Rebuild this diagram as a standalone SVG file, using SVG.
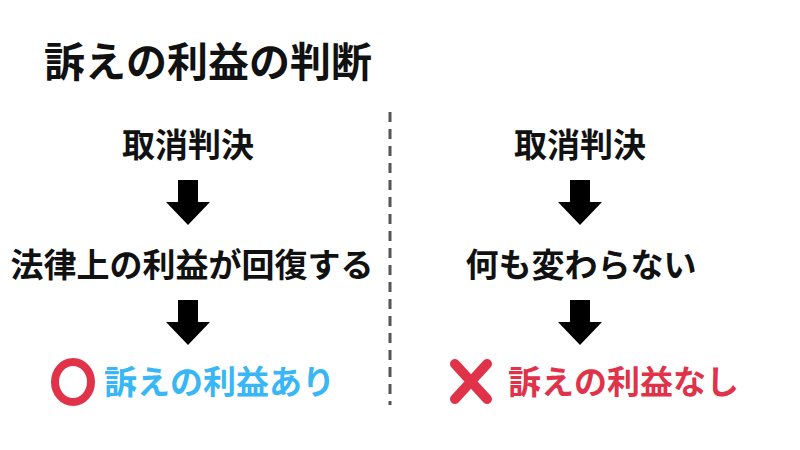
<svg xmlns="http://www.w3.org/2000/svg" width="800" height="450" viewBox="0 0 800 450">
<style>
text{font-family:"Noto Sans CJK JP","Noto Sans CJK SC",sans-serif;font-weight:700}
.t{font-size:33px;fill:#111;text-anchor:middle}
.arrow{fill:#000}
</style>
<defs>
<path id="arr" class="arrow" d="M-10,0 H10 V22 H22 L0,45 L-22,22 H-10 Z"/>
</defs>
<rect width="800" height="450" fill="#fff"/>
<text x="44" y="77" font-size="41" fill="#111">訴えの利益の判断</text>
<g id="connectors">
<line x1="390" y1="112" x2="390" y2="405" stroke="#555" stroke-width="3" stroke-dasharray="10,7"/>
<use href="#arr" x="188" y="180"/>
<use href="#arr" x="188" y="300"/>
<use href="#arr" x="580" y="180"/>
<use href="#arr" x="580" y="300"/>
</g>
<g id="left-top"><text class="t" x="188" y="157">取消判決</text></g>
<g id="left-mid"><text class="t" x="192" y="277">法律上の利益が回復する</text></g>
<g id="left-result">
<ellipse cx="73" cy="382" rx="18" ry="20" fill="none" stroke="#e0334a" stroke-width="8"/>
<text x="104" y="394" font-size="33" fill="#38b6f5">訴えの利益あり</text>
</g>
<g id="right-top"><text class="t" x="580" y="157">取消判決</text></g>
<g id="right-mid"><text class="t" x="581" y="277">何も変わらない</text></g>
<g id="right-result">
<path d="M455,364 L487,399 M487,364 L455,399" stroke="#e0334a" stroke-width="10" stroke-linecap="round"/>
<text x="508" y="394" font-size="33" fill="#e0334a">訴えの利益なし</text>
</g>
</svg>
